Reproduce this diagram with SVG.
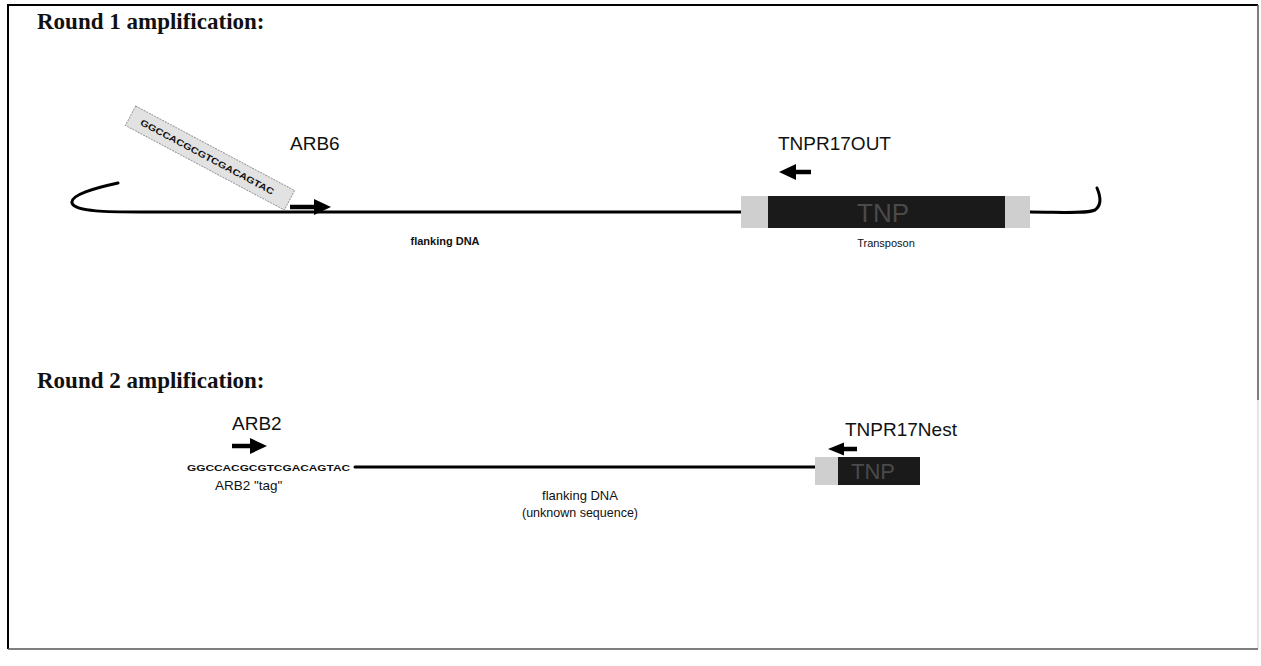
<svg xmlns="http://www.w3.org/2000/svg" width="1261" height="666" viewBox="0 0 1261 666">
<defs>
<style>
.title{font-family:"Liberation Serif",serif;font-weight:bold;font-size:23px;fill:#111}
.lbl{font-family:"Liberation Sans",Arial,sans-serif;font-size:19px;fill:#111}
.small{font-family:"Liberation Sans",Arial,sans-serif;font-size:11px;fill:#111}
.seq{font-family:"Liberation Sans",Arial,sans-serif;font-size:9px;font-weight:bold;fill:#111}
.dna{fill:none;stroke:#000;stroke-width:3;stroke-linecap:round}
.shaft{stroke:#000;stroke-width:4.5}
.head{fill:#000}
.grey{fill:#cfcfcf}
.dark{fill:#1a1a1a}
.tnp{font-family:"Liberation Sans",Arial,sans-serif;fill:#4a4a4a}
</style>
</defs>
<rect width="1261" height="666" fill="#fff"/>
<g id="frame">
<path d="M8,649 L8,5 L1258,5" fill="none" stroke="#000" stroke-width="2"/>
<path d="M1258,5 L1258,400" fill="none" stroke="#555" stroke-width="1.5"/>
<path d="M1258,400 L1258,649" fill="none" stroke="#ccc" stroke-width="1"/>
<path d="M8,649 L1258,649" fill="none" stroke="#555" stroke-width="1.5"/>
</g>
<g id="round1-title"><text class="title" x="37" y="29">Round 1 amplification:</text></g>
<g id="round2-title"><text class="title" x="37" y="388">Round 2 amplification:</text></g>
<g id="connectors">
<path class="dna" d="M118,183 C95,188 70,195 72,203 C75,212 110,212 140,212 L741,212"/>
<path class="dna" d="M1030,212 C1060,212 1085,214 1095,210 C1102,205 1100,195 1097,188"/>
<path class="dna" d="M355,467 L815,467"/>
<line class="shaft" x1="290" y1="207" x2="316" y2="207"/>
<polygon class="head" points="314,199 331,207 314,215"/>
<line class="shaft" x1="794" y1="172" x2="811" y2="172"/>
<polygon class="head" points="796,164 779,172 796,180"/>
<line class="shaft" x1="232" y1="446" x2="252" y2="446"/>
<polygon class="head" points="250,438 267,446 250,454"/>
<line class="shaft" x1="842" y1="449" x2="857" y2="449"/>
<polygon class="head" points="844,442.5 828,449 844,455.5"/>
</g>
<g id="arb6-tag">
<g transform="translate(210,158) rotate(28)">
<rect x="-90" y="-11" width="180" height="22" fill="#e2e2e2" stroke="#999" stroke-width="1" stroke-dasharray="2,1"/>
<text class="seq" x="-78" y="3.5" textLength="150" lengthAdjust="spacingAndGlyphs">GGCCACGCGTCGACAGTAC</text>
</g>
</g>
<g id="arb6"><text class="lbl" x="290" y="150">ARB6</text></g>
<g id="tnpr17out"><text class="lbl" x="778" y="150">TNPR17OUT</text></g>
<g id="transposon">
<rect class="grey" x="741" y="196" width="289" height="32"/>
<rect class="dark" x="768" y="196" width="237" height="32"/>
<text class="tnp" x="883" y="222" text-anchor="middle" font-size="26">TNP</text>
</g>
<g id="transposon-label"><text class="small" x="886" y="247" text-anchor="middle">Transposon</text></g>
<g id="flanking1"><text class="small" x="445" y="245" text-anchor="middle" font-weight="bold">flanking DNA</text></g>
<g id="arb2"><text class="lbl" x="232" y="430">ARB2</text></g>
<g id="arb2-seq"><text class="seq" x="187" y="471" textLength="163" lengthAdjust="spacingAndGlyphs">GGCCACGCGTCGACAGTAC</text></g>
<g id="arb2-tag"><text class="small" x="215" y="490" style="font-size:13.5px">ARB2 "tag"</text></g>
<g id="flanking2">
<text class="small" x="580" y="500" text-anchor="middle" style="font-size:13px">flanking DNA</text>
<text class="small" x="580" y="517" text-anchor="middle" style="font-size:12.5px">(unknown sequence)</text>
</g>
<g id="tnpr17nest"><text class="lbl" x="845" y="436">TNPR17Nest</text></g>
<g id="tnp2">
<rect class="grey" x="815" y="457" width="105" height="28"/>
<rect class="dark" x="838" y="457" width="82" height="28"/>
<text class="tnp" x="873" y="479" text-anchor="middle" font-size="22">TNP</text>
</g>
</svg>
